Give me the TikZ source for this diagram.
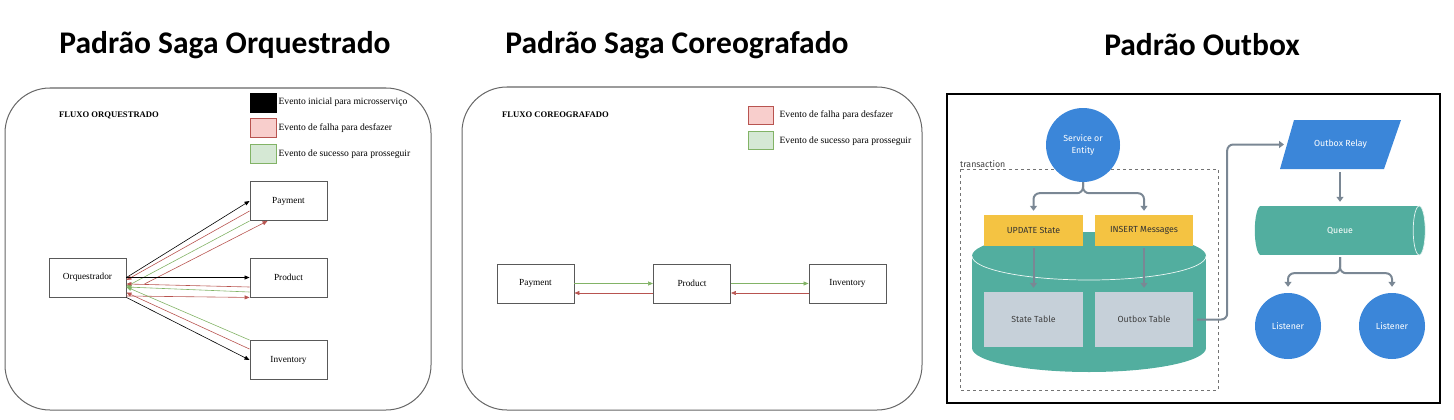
\documentclass[tikz,border=0pt]{standalone}
\usepackage{fontspec}
\setmainfont{Liberation Serif}
\newfontfamily\titlefont{Carlito}
\newfontfamily\dinfont{Fira Sans}
\usetikzlibrary{positioning,shapes.geometric,arrows.meta}

\definecolor{failfill}{HTML}{F8CECC}
\definecolor{faildraw}{HTML}{B85450}
\definecolor{okfill}{HTML}{D5E8D4}
\definecolor{okdraw}{HTML}{82B366}
\definecolor{obblue}{HTML}{3B86D9}
\definecolor{obteal}{HTML}{52AE9F}
\definecolor{obyellow}{HTML}{F4C342}
\definecolor{obtable}{HTML}{C6D0D9}
\definecolor{obarrow}{HTML}{7A8794}

\begin{document}
\begin{tikzpicture}[x=1pt,y=-1pt,
    panel/.style={draw=black!60, line width=1pt, rounded corners=45pt},
    svc/.style={draw=black!65, line width=0.9pt, fill=white, minimum width=77pt, minimum height=39pt, font=\fontsize{9.3}{11}\selectfont},
    heading/.style={font=\titlefont\bfseries\fontsize{31.5}{36}\selectfont},
    flowtitle/.style={font=\bfseries\fontsize{8.6}{10}\selectfont, anchor=west, inner sep=0pt},
    legendbox/.style={minimum width=26pt, minimum height=19pt, inner sep=0pt, line width=0.8pt},
    legendtext/.style={font=\fontsize{9.6}{11}\selectfont, inner sep=0pt},
    start/.style={-{Triangle[length=5pt,width=4pt]}, line width=0.6pt, black},
    fail/.style={-{Triangle[length=5pt,width=4pt]}, line width=0.6pt, faildraw},
    ok/.style={-{Triangle[length=5pt,width=4pt]}, line width=0.6pt, okdraw},
    obtext/.style={font=\dinfont\fontsize{8.8}{12}\selectfont},
    obflow/.style={-{Triangle[length=5pt,width=7pt]}, line width=2pt, obarrow, rounded corners=6pt}]
\useasboundingbox (0,0) rectangle (1454,420);

\node[heading] (t1) at (225,45) {Padrão Saga Orquestrado};
\node[heading] (t2) at (677,45) {Padrão Saga Coreografado};
\node[heading] (t3) at (1202,45) {Padrão Outbox};

% orquestrado
\draw[panel] (5,88) rectangle (431,410);
\node[flowtitle] (f1) at (59,115) {FLUXO ORQUESTRADO};
\node[legendbox, fill=black, draw=black] (lg1) at (263,102.5) {};
\node[legendbox, fill=failfill, draw=faildraw, below=6pt of lg1] (lg2) {};
\node[legendbox, fill=okfill, draw=okdraw, below=6pt of lg2] (lg3) {};
\node[legendtext, right=2pt of lg1] (lt1) {Evento inicial para microsserviço};
\node[legendtext, right=2pt of lg2] (lt2) {Evento de falha para desfazer};
\node[legendtext, right=2pt of lg3] (lt3) {Evento de sucesso para prosseguir};

\node[svc] (orq) at (87.5,277.5) {Orquestrador};
\node[svc] (pay) at (288.5,201) {Payment};
\node[svc] (prod) at (288.5,277.5) {Product};
\node[svc] (inv) at (288.5,360) {Inventory};

\draw[start] (orq.east) -- (pay.west);
\draw[fail] ([yshift=-10pt]pay.west) -- ([yshift=-2.5pt]orq.east);
\draw[ok] (pay.south west) -- ([yshift=-9pt]orq.east);
\draw[fail] ([xshift=18pt,yshift=-6.5pt]orq.east) -- ([xshift=18pt]pay.south west);
\draw[start] (orq.east) -- (prod.west);
\draw[fail] ([yshift=-9.5pt]prod.west) -- ([yshift=-6.5pt]orq.east);
\draw[ok] ([yshift=-14.5pt]prod.west) -- ([yshift=-9.5pt]orq.east);
\draw[fail] ([yshift=-18.5pt]orq.east) -- (prod.south west);
\draw[start] (orq.south east) -- (inv.west);
\draw[ok] (inv.north west) -- ([yshift=-9.5pt]orq.east);
\draw[fail] ([yshift=-9pt]inv.north west) -- ([yshift=-15pt]orq.east);

% coreografado
\draw[panel] (462,87) rectangle (922,410);
\node[flowtitle] (f2) at (502,115) {FLUXO COREOGRAFADO};
\node[legendbox, minimum width=25pt, minimum height=18pt, fill=failfill, draw=faildraw] (lg4) at (760.5,115) {};
\node[legendbox, minimum width=25pt, minimum height=18pt, fill=okfill, draw=okdraw, below=7pt of lg4] (lg5) {};
\node[legendtext, right=6pt of lg4] (lt4) {Evento de falha para desfazer};
\node[legendtext, right=6pt of lg5] (lt5) {Evento de sucesso para prosseguir};

\node[svc] (pay2) at (535.5,283.5) {Payment};
\node[svc] (prod2) at (692,283.5) {Product};
\node[svc] (inv2) at (847.5,283.5) {Inventory};

\draw[ok] (pay2.east) -- (prod2.west);
\draw[ok] (prod2.east) -- (inv2.west);
\draw[fail] ([yshift=-9.5pt]prod2.west) -- ([yshift=-9.5pt]pay2.east);
\draw[fail] ([yshift=-9.5pt]inv2.west) -- ([yshift=-9.5pt]prod2.east);

% outbox
\draw[line width=2pt] (947,94) rectangle (1440,403);
\draw[dashed, black!55, line width=0.7pt] (960,169) rectangle (1218,390);
\node[obtext, anchor=south west, inner sep=1pt, text=black!75] (tx) at (959,169) {transaction};

\fill[obteal] (972,256) rectangle (1206,348);
\fill[obteal] (1089,348) ellipse [x radius=117pt, y radius=24pt];
\fill[obteal] (1089,256) ellipse [x radius=117pt, y radius=24pt];
\draw[white!90!obteal, line width=0.7pt] (972,256) arc [start angle=180, end angle=360, x radius=117pt, y radius=24pt];

\node[circle, fill=obblue, minimum size=74pt, obtext, text=white, align=center] (service) at (1083,145) {Service or\\Entity};
\node[fill=obyellow, minimum width=99pt, minimum height=31pt, obtext, text=black!80] (update) at (1033.5,230.5) {UPDATE State};
\node[fill=obyellow, minimum width=98pt, minimum height=31pt, obtext, text=black!80] (insert) at (1144,230.5) {INSERT Messages};
\node[fill=obtable, minimum width=99pt, minimum height=55pt, obtext, text=black!75] (state) at (1033.5,319.5) {State Table};
\node[fill=obtable, minimum width=98pt, minimum height=55pt, obtext, text=black!75] (outbox) at (1144,319.5) {Outbox Table};

\fill[obblue] (1294,120) -- (1401,120) -- (1384,169) -- (1280,169) -- cycle;
\node[obtext, text=white] (relay) at (1340.5,144.5) {Outbox Relay};
\coordinate (relayin) at (1287,144.5);
\coordinate (relayout) at (1340,169);
\node[fill=obteal, minimum width=158pt, minimum height=49pt, inner sep=0pt, obtext, text=white] (queue) at (1340,230.5) {Queue};
\fill[obteal] (queue.west) ellipse [x radius=6pt, y radius=24.5pt];
\filldraw[fill=obteal, draw=white!85!obteal, line width=0.7pt] (queue.east) ellipse [x radius=6pt, y radius=24.5pt];
\node[circle, fill=obblue, minimum size=66pt, obtext, text=white] (lis1) at (1288,326) {Listener};
\node[circle, fill=obblue, minimum size=66pt, obtext, text=white] (lis2) at (1392,326) {Listener};

\draw[obflow] (service.south) -- ++(0,11) -| ([yshift=4pt]update.north);
\draw[obflow] (service.south) -- ++(0,11) -| ([yshift=4pt]insert.north);
\draw[obflow] ([yshift=-2pt]update.south) -- ([yshift=4pt]state.north);
\draw[obflow] ([yshift=-2pt]insert.south) -- ([yshift=4pt]outbox.north);
\draw[obflow] ([xshift=4pt]outbox.east) -- ++(30,0) |- ([xshift=-3pt]relayin);
\draw[obflow] ([yshift=-3pt]relayout) -- ([yshift=4pt]queue.north);
\draw[obflow] ([yshift=-2pt]queue.south) -- ++(0,16) -| ([yshift=6pt]lis1.north);
\draw[obflow] ([yshift=-2pt]queue.south) -- ++(0,16) -| ([yshift=6pt]lis2.north);
\end{tikzpicture}
\end{document}
